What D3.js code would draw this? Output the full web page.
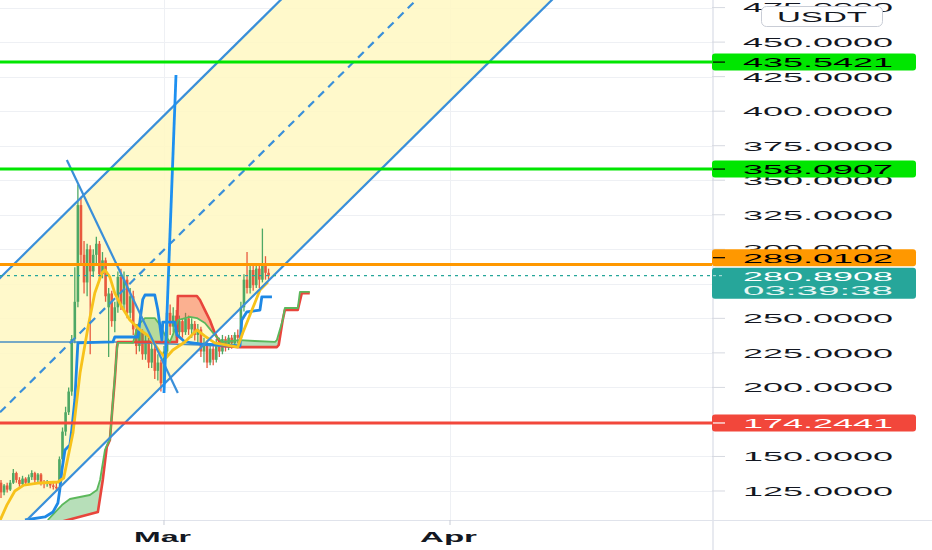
<!DOCTYPE html>
<html><head><meta charset="utf-8">
<script src="https://cdn.jsdelivr.net/npm/d3@7"></script>
<style>html,body{margin:0;padding:0;background:#fff;overflow:hidden}</style>
</head><body><svg id="c" width="932" height="550"></svg>
<script>
// ---------- DATA ----------
const candleStart = Date.UTC(2024, 1, 12, 8, 0);   // first 8h candle
const candleHours = 8;
// [open, high, low, close]
const candles = [
 [131,133,120,124],[124,130,122,129],[129,131,124,126],[126,133,125,131],[131,141,130,138],
 [138,139,131,133],[133,135,128,130],[130,136,129,134],[134,135,129,131],[131,137,130,135],
 [135,140,133,138],[138,139,131,133],[133,138,131,137],[137,138,129,131],[131,133,127,130],
 [130,133,128,131],[131,132,127,129],[129,131,126,128],[128,131,125,127],[131,150,130,148],
 [148,171,146,168],[168,186,165,182],[182,200,180,197],[197,238,194,235],[235,287,232,262],
 [262,347,258,332],[332,338,290,296],[296,306,268,276],[276,304,266,300],[300,303,224,284],
 [284,300,280,296],[296,309,290,304],[304,306,278,282],[282,298,279,292],[292,294,262,266],
 [258,272,222,268],[268,270,244,248],[248,262,240,258],[258,284,254,280],[280,286,256,260],
 [260,284,256,278],[278,281,250,254],[254,272,250,266],[266,270,238,242],[242,246,224,230],
 [230,245,226,240],[240,242,220,224],[224,238,220,234],[234,236,214,218],[218,232,214,228],
 [228,230,206,212],[212,224,205,218],[218,220,197,203],[203,230,200,226],[226,263,222,254],
 [254,260,238,244],[244,258,240,252],[252,256,236,240],[240,252,236,248],[248,250,236,240],
 [240,254,238,250],[250,252,238,242],[242,250,236,246],[246,248,234,238],[238,246,232,242],
 [242,244,222,226],[226,236,218,232],[232,234,214,218],[218,232,216,228],[228,230,216,220],
 [220,235,218,232],[232,236,222,226],[226,238,224,235],[235,237,226,229],[229,238,227,236],
 [236,238,228,232],[232,240,230,238],[238,242,232,236],[236,262,234,258],[258,282,255,278],
 [278,298,268,272],[272,290,268,285],[285,288,270,274],[274,290,272,286],[286,289,272,278],
 [278,315,276,290],[290,295,278,283],[283,286,278,280.8908]
];
// indicator lines: [candle index, price]
const maLine = [[-0.4,103.3],[1.9,114.8],[4.5,125],[7.4,129.3],[12.6,130.8],[18.5,131.5],[20.4,134.4],
 [23.4,167],[25.7,210.4],[28.3,243.7],[30.5,268.3],[32.8,282.8],[33.8,285],[35.4,279.9],[37,268.3],
 [39.3,258.2],[41.9,248.8],[45.2,241.6],[48.4,236.5],[51.7,225.6],[53.6,221.3],[55.9,227.1],
 [59.8,232.9],[63.7,241.6],[66.3,237.2],[69.5,232.2],[77,229.2],[78.6,239.4],[81.6,256],
 [84.2,270.5],[86.8,276.3]];
const convLine = [[7.8,104],[14.3,106.2],[16.9,109.8],[18.5,116.3],[19.1,125.7],[19.8,140.2],
 [20.8,154.7],[22.4,158.3],[23,169.2],[24,190.9],[25,232.2],[36.4,232.9],[37,236.5],[44.5,236.5],
 [46.1,263.8],[46.8,266.9],[50,266.9],[51,256],[52.3,234.3],[52.6,247.3],[56.5,247.3],[57.2,238],
 [59.1,234.3],[59.8,232.9],[64.7,231.5],[77.7,230],[78.3,248.8],[79.9,254.6],[84.2,256],
 [84.8,265.5],[88.1,265.5]];
const baseLine = [[-0.4,232.9],[37,232.9],[64.7,230.7],[77.7,229.2]];
const spanA = [[15.2,104],[19.8,114.8],[22.4,119.2],[28.9,122.1],[31.2,125.7],[32.2,133],[33.8,154.7],
 [34.8,159.8],[35.4,161.9],[36.4,190.9],[37.7,227.1],[38,232.2],[42.9,232.2],[44.5,245.2],
 [46.8,250.2],[50,250.2],[51.7,245.2],[53.3,238],[54.9,232.9],[56.5,241.6],[57.5,248.8],
 [61.4,251],[63.7,250.2],[66.3,246.6],[69.5,238],[71.8,232.9],[77.7,234.3],[82.5,233.6],
 [89.1,232.9],[89.7,234.3],[91.6,248.8],[92.3,257.5],[96.5,257.5],[97.2,269.1],[100.4,269.1]];
const spanB = [[15,100],[21.7,104],[31.5,109.8],[33.1,133],[34.4,156.9],[35.4,161.9],[36.1,181.5],
 [37,205.4],[37.7,229.2],[38,232.9],[57.2,232.9],[57.5,266.2],[63.7,266.2],[64.7,263.3],[66.3,256],
 [67.9,248.8],[69.5,239.4],[71.2,232.2],[71.8,230],[77.7,229.2],[89.7,229.2],[90.3,230.7],
 [91.6,248.8],[92.3,256],[96.5,256],[97.8,268.3],[100.4,268.3]];
// drawings: [candle index, price]
const channelLower = [[8.4,104],[179.1,480.5]];
const channelWidth = 194.5;
const trendDown = [[21.4,364.7],[57.5,196]];
const trendSpike = [[53,196],[56.9,426.2]];
const levels = [
 {price:435.5421, fill:'#00e600', text:'#000', tick:'#000'},
 {price:358.0907, fill:'#00e600', text:'#000', tick:'#000'},
 {price:289.0102, fill:'#ff9800', text:'#000', tick:'#000'},
 {price:174.2441, fill:'#f2473b', text:'#fff', tick:'#fff'}
];
const lastPrice = 280.8908;
const countdown = '03:39:38';
const priceTicks = [475,450,425,400,375,350,325,300,250,225,200,150,125];
const timeTicks = [{date:Date.UTC(2024,2,1), label:'Mar'},{date:Date.UTC(2024,3,1), label:'Apr'}];
const currency = 'USDT';

// ---------- SCALES ----------
const W = 932, H = 550, PW = 712, PH = 520;
const x = d3.scaleUtc().domain([Date.UTC(2024,1,12,5,23), Date.UTC(2024,3,29,9,32)]).range([0, PW]);
const y = d3.scaleLinear().domain([104, 480.5]).range([PH, 0]);
const tOf = i => new Date(candleStart + i * candleHours * 3600e3);
const X = i => x(tOf(i));
const FONT = "'Liberation Sans', Arial, sans-serif";

const svg = d3.select('#c');
svg.append('rect').attr('width', W).attr('height', H).attr('fill', '#fff');
const defs = svg.append('defs');
defs.append('clipPath').attr('id','plot').append('rect').attr('width',PW).attr('height',PH);
const g = svg.append('g').attr('clip-path','url(#plot)');

// grid
g.selectAll('.hg').data(priceTicks.concat([275])).join('line')
 .attr('x1',0).attr('x2',PW).attr('y1',d=>Math.round(y(d))+0.5).attr('y2',d=>Math.round(y(d))+0.5)
 .attr('stroke','#eef0f4').attr('stroke-width',1);
g.selectAll('.vg').data(timeTicks).join('line')
 .attr('x1',d=>Math.round(x(d.date))+0.5).attr('x2',d=>Math.round(x(d.date))+0.5).attr('y1',0).attr('y2',PH)
 .attr('stroke','#eef0f4').attr('stroke-width',1);

// channel
const slope = (channelLower[1][1]-channelLower[0][1])/(channelLower[1][0]-channelLower[0][0]);
const lowAt = i => channelLower[0][1] + (i-channelLower[0][0])*slope;
const ext = [-120, 260];
const chan = off => ext.map(i => [X(i), y(lowAt(i)+off)]);
const lo = chan(0), up = chan(channelWidth), mid = chan(channelWidth/2);
g.append('path').attr('d', d3.line()(lo.concat(up.slice().reverse())) + 'Z')
 .attr('fill','#fff8c2').attr('fill-opacity',0.85);

// candles
const cg = g.append('g');
candles.forEach((c,i) => {
  const up_ = c[3] >= c[0];
  const col = up_ ? '#4ea865' : '#e85a3e';
  const cx = X(i);
  cg.append('line').attr('x1',cx).attr('x2',cx).attr('y1',y(c[1])).attr('y2',y(c[2]))
    .attr('stroke',col).attr('stroke-width',1.3);
  const top = y(Math.max(c[0],c[3])), bot = y(Math.min(c[0],c[3]));
  cg.append('rect').attr('x',cx-1.3).attr('width',2.6).attr('y',top).attr('height',Math.max(1,bot-top)).attr('fill',col);
});

// cloud fills (A above B -> green, B above A -> red)
const lineP = d3.line().x(d=>X(d[0])).y(d=>y(d[1]));
const closedDown = s => lineP(s) + `L${X(s[s.length-1][0])},2000L${X(s[0][0])},2000Z`;
const closedUp = s => lineP(s) + `L${X(s[s.length-1][0])},-2000L${X(s[0][0])},-2000Z`;
defs.append('clipPath').attr('id','aboveB').append('path').attr('d', closedUp(spanB));
defs.append('clipPath').attr('id','aboveA').append('path').attr('d', closedUp(spanA));
g.append('path').attr('d', closedDown(spanA)).attr('clip-path','url(#aboveB)')
 .attr('fill','rgba(76,175,80,0.4)');
g.append('path').attr('d', closedDown(spanB)).attr('clip-path','url(#aboveA)')
 .attr('fill','rgba(244,67,54,0.4)');

const drawLine = (data, color, w, dash) => g.append('path').attr('d', lineP(data)).attr('fill','none')
 .attr('stroke',color).attr('stroke-width',w).attr('stroke-linejoin','round').attr('stroke-dasharray',dash||null);
drawLine(baseLine,'#4a8fc4',1.6);
drawLine(spanB,'#e8453c',2.6);
drawLine(spanA,'#5cb85c',1.8);
drawLine(convLine,'#1e88e5',2.8);
drawLine(maLine,'#f7c21b',2.8);

// drawings
const pl = d3.line();
g.append('path').attr('d',pl(lo)).attr('stroke','#3a8fd9').attr('stroke-width',2.2).attr('fill','none');
g.append('path').attr('d',pl(up)).attr('stroke','#3a8fd9').attr('stroke-width',2.2).attr('fill','none');
g.append('path').attr('d',pl(mid)).attr('stroke','#3a8fd9').attr('stroke-width',2.2).attr('fill','none').attr('stroke-dasharray','8,6');
drawLine(trendDown,'#3a8fd9',2.2);
drawLine(trendSpike,'#1e90f0',2.8);

// horizontal levels
g.selectAll('.lv').data(levels).join('line')
 .attr('x1',0).attr('x2',PW).attr('y1',d=>y(d.price)).attr('y2',d=>y(d.price))
 .attr('stroke',d=>d.fill).attr('stroke-width',3);
g.append('line').attr('x1',0).attr('x2',PW).attr('y1',y(lastPrice)).attr('y2',y(lastPrice))
 .attr('stroke','#26a69a').attr('stroke-width',1.2).attr('stroke-dasharray','3,4');

// axes frame
svg.append('line').attr('x1',713).attr('x2',713).attr('y1',0).attr('y2',H).attr('stroke','#e0e3eb').attr('stroke-width',1.5);
svg.append('line').attr('x1',0).attr('x2',W).attr('y1',520.5).attr('y2',520.5).attr('stroke','#e0e3eb').attr('stroke-width',1);

// price tick labels
const TX = 743, TL = 150, FS = 13.5;
const tickG = svg.append('g');
priceTicks.forEach(p => {
  const yy = y(p);
  tickG.append('line').attr('x1',712).attr('x2',725).attr('y1',yy).attr('y2',yy).attr('stroke','#d6d9e0');
  tickG.append('text').attr('x',TX).attr('y',yy+4.9).attr('font-family',FONT).attr('font-size',FS)
   .attr('fill','#131722').attr('textLength',TL).attr('lengthAdjust','spacingAndGlyphs').text(p.toFixed(4));
});

// time labels
timeTicks.forEach(t => {
  const xx = x(t.date);
  svg.append('line').attr('x1',xx).attr('x2',xx).attr('y1',520).attr('y2',525).attr('stroke','#c8ccd6');
  svg.append('text').attr('x',xx-30).attr('y',542).attr('font-family',FONT).attr('font-weight','bold')
   .attr('font-size',14).attr('fill','#131722').attr('textLength',57).attr('lengthAdjust','spacingAndGlyphs').text(t.label);
});

// last price label (two lines)
const lastY = y(lastPrice);
const lastTop = lastY - 8;
svg.append('rect').attr('x',712).attr('y',lastTop).attr('width',204).attr('height',31).attr('rx',3).attr('fill','#26a69a');
svg.append('line').attr('x1',713).attr('x2',725).attr('y1',lastY).attr('y2',lastY).attr('stroke','#bfe6e2').attr('stroke-dasharray','3,3');
svg.append('text').attr('x',TX).attr('y',lastY+4.9).attr('font-family',FONT).attr('font-size',FS).attr('fill','#fff')
 .attr('textLength',TL).attr('lengthAdjust','spacingAndGlyphs').text(lastPrice.toFixed(4));
svg.append('text').attr('x',TX).attr('y',lastY+19.5).attr('font-family',FONT).attr('font-size',FS).attr('fill','#e6f6f4')
 .attr('textLength',TL).attr('lengthAdjust','spacingAndGlyphs').text(countdown);

// level labels (pushed clear of the last-price label)
levels.forEach(l => {
  let cy = y(l.price);
  if (cy + 8.5 > lastTop - 1 && cy - 8.5 < lastTop + 31) cy = lastTop - 1.5 - 8.5;
  svg.append('rect').attr('x',712).attr('y',cy-8.5).attr('width',204).attr('height',17).attr('rx',3).attr('fill',l.fill);
  svg.append('line').attr('x1',713).attr('x2',725).attr('y1',cy).attr('y2',cy).attr('stroke',l.tick).attr('stroke-width',1.2);
  svg.append('text').attr('x',TX).attr('y',cy+4.9).attr('font-family',FONT).attr('font-size',FS).attr('fill',l.text)
   .attr('textLength',TL).attr('lengthAdjust','spacingAndGlyphs').text(l.price.toFixed(4));
});

// currency button
svg.append('rect').attr('x',761.5).attr('y',6.5).attr('width',121).attr('height',20).attr('rx',5)
 .attr('fill','#fff').attr('stroke','#c9cdd6');
svg.append('text').attr('x',777).attr('y',21.5).attr('font-family',FONT).attr('font-size',14).attr('fill','#131722')
 .attr('textLength',90).attr('lengthAdjust','spacingAndGlyphs').text(currency);
</script></body></html>
